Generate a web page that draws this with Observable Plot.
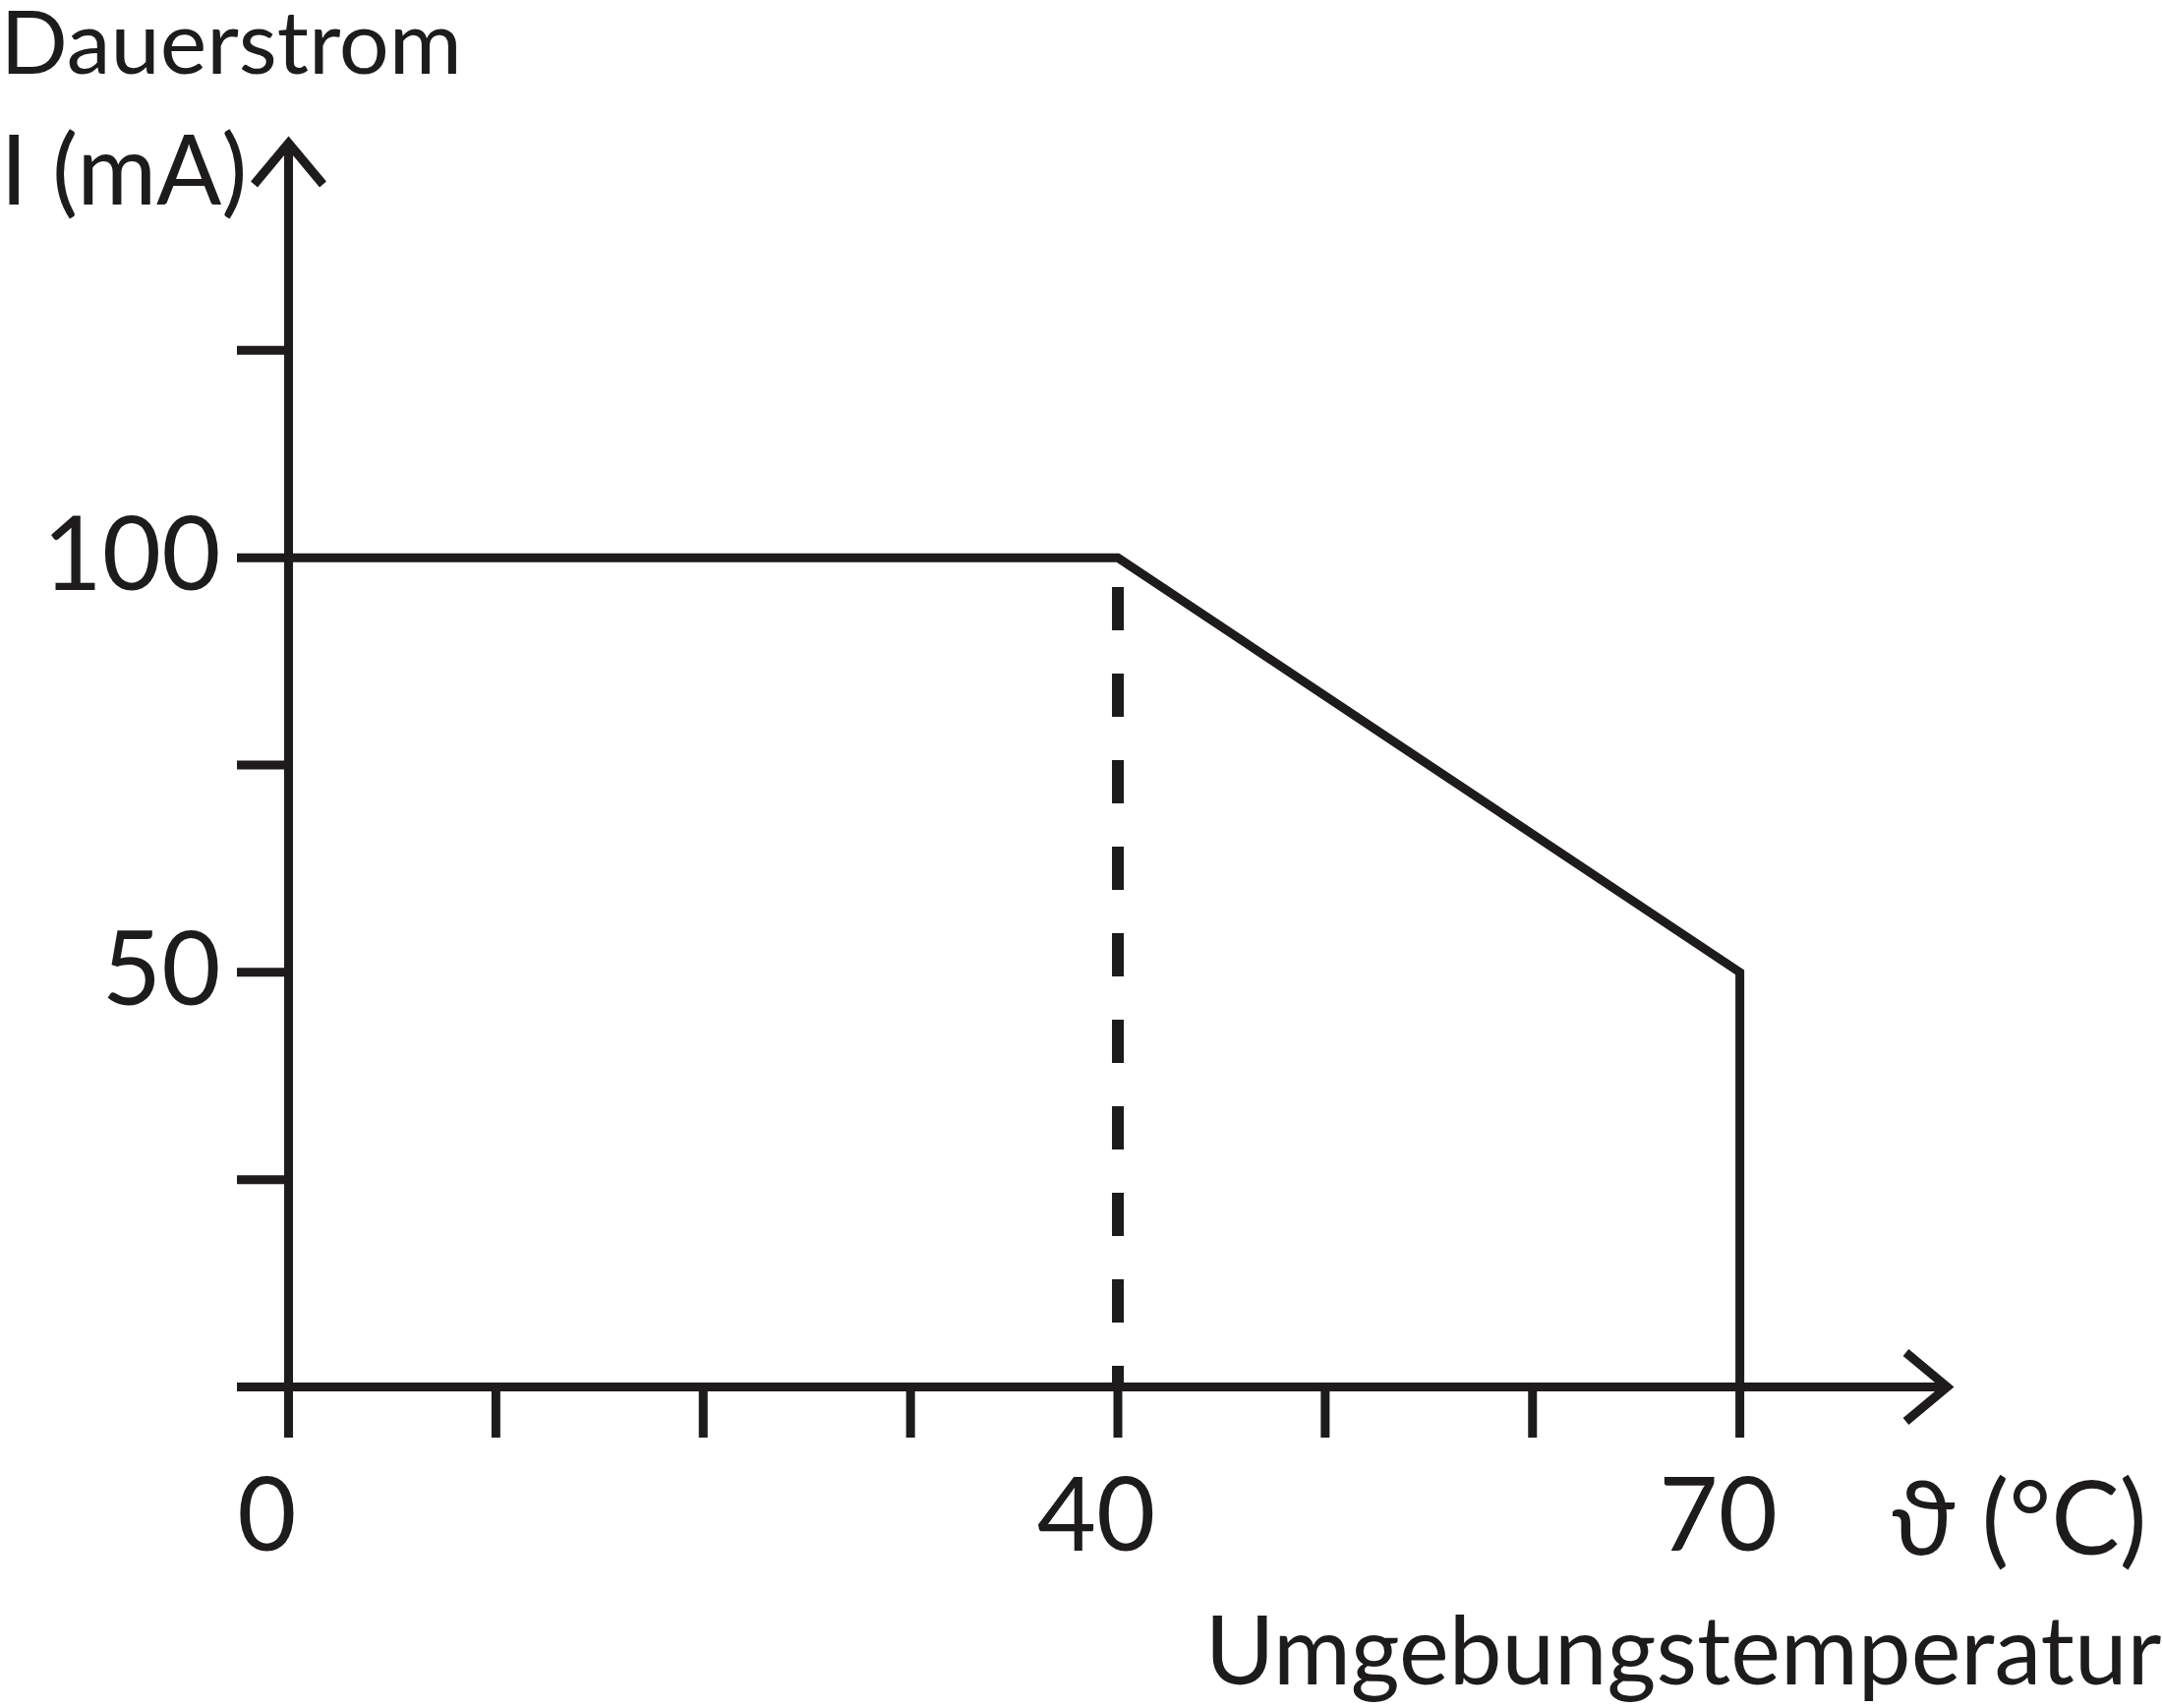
<!DOCTYPE html>
<html>
<head>
<meta charset="utf-8">
<script src="https://cdn.jsdelivr.net/npm/d3@7"></script>
<script src="https://cdn.jsdelivr.net/npm/@observablehq/plot@0.6"></script>
<style>
  html, body { margin: 0; padding: 0; background: #ffffff; }
  #chart svg { display: block; }
</style>
</head>
<body>
<div id="chart"></div>
<script>
// ---- data ----
const temperature = [0, 40, 70, 70];          // °C
const current = [100, 100, 50, 0];            // mA
const kneeTemperature = 40;                   // dashed marker
const kneeCurrent = 100;
const xMax = 80;                              // axis arrow ends
const yMax = 150;
const xTicks = [0, 10, 20, 30, 40, 50, 60, 70];
const xTickLabels = [0, 40, 70];
const yTicks = [0, 25, 50, 75, 100, 125];
const yTickLabels = [50, 100];
const yTitleLines = ["Dauerstrom", "I (mA)"];
const xUnitLabel = "ϑ (°C)";
const xTitle = "Umgebungstemperatur";

const curve = temperature.map((t, i) => ({t, i: current[i]}));
const axisEnds = [{x: 0, y: yMax, dir: "up"}, {x: xMax, y: 0, dir: "right"}];

const ink = "#1d1b1b";
const font = "Lato, 'Noto Sans', sans-serif";

const chevron = {
  draw(context) {
    context.moveTo(-35, 42);
    context.lineTo(0, 0);
    context.lineTo(35, 42);
  }
};

const chart = Plot.plot({
  width: 2199,
  height: 1737,
  marginLeft: 293,
  marginRight: 219,
  marginTop: 145,
  marginBottom: 327,
  style: {color: ink, background: "#ffffff", fontFamily: font},
  x: {domain: [0, xMax], label: null},
  y: {domain: [0, yMax], label: null},
  marks: [
    // axis lines
    Plot.ruleX([0], {strokeWidth: 9}),
    Plot.ruleY([0], {strokeWidth: 9}),
    // tick marks
    Plot.axisX(xTicks, {tickSize: 52, strokeWidth: 9, tickFormat: () => "", label: null}),
    Plot.axisY(yTicks, {tickSize: 52, strokeWidth: 9, tickFormat: () => "", label: null}),
    // tick labels
    Plot.axisX(xTickLabels, {tickSize: 0, tickPadding: 93, fontSize: 104, dx: -22, tickFormat: d => String(d), label: null}),
    Plot.axisY(yTickLabels, {tickSize: 0, tickPadding: 69, fontSize: 104, tickFormat: d => String(d), label: null}),
    // arrow heads
    Plot.dot(axisEnds, {x: "x", y: "y", symbol: chevron, rotate: d => d.dir === "right" ? 90 : 0,
      fill: "none", stroke: ink, strokeWidth: 9, strokeLinejoin: "miter"}),
    // dashed marker at the knee
    Plot.ruleX([kneeTemperature], {y1: 0, y2: kneeCurrent, stroke: ink, strokeWidth: 12,
      strokeDasharray: "44,44", strokeDashoffset: 23}),
    // derating curve
    Plot.line(curve, {x: "t", y: "i", stroke: ink, strokeWidth: 9, strokeLinejoin: "miter", strokeMiterlimit: 10}),
    // titles
    Plot.text([yTitleLines[0]], {text: d => d, frameAnchor: "top-left", textAnchor: "start", lineAnchor: "bottom",
      dx: -293, dy: -71, fontSize: 90, fill: ink}),
    Plot.text([yTitleLines[1]], {text: d => d, frameAnchor: "top-left", textAnchor: "start", lineAnchor: "bottom",
      dx: -293, dy: 62, fontSize: 98, fill: ink}),
    Plot.text([xUnitLabel], {text: d => d, frameAnchor: "bottom-right", textAnchor: "end", lineAnchor: "bottom",
      dx: 203, dy: 170, fontSize: 104, fill: ink}),
    Plot.text([xTitle], {text: d => d, frameAnchor: "bottom-right", textAnchor: "end", lineAnchor: "bottom",
      dx: 218, dy: 302, fontSize: 96, fill: ink})
  ]
});

document.getElementById("chart").appendChild(chart);
</script>
</body>
</html>
